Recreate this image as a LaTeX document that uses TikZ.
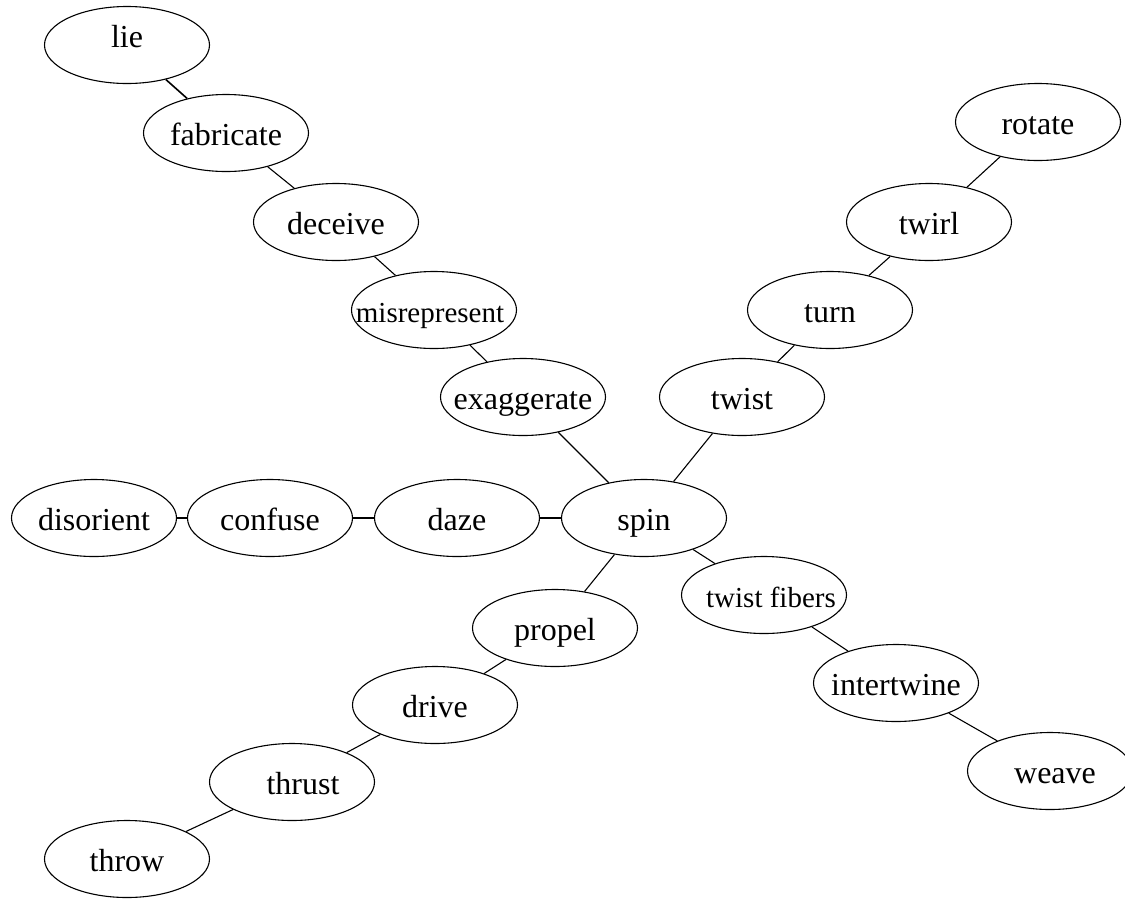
\documentclass[tikz,border=0pt]{standalone}
\usepackage{fontspec}
\setmainfont{Liberation Serif}
\usetikzlibrary{shapes.geometric}
\newcommand{\wordbox}[1]{\makebox[0pt][c]{#1}}
\tikzset{
  word/.style={draw, ellipse, line width=1.1pt, minimum width=165pt, minimum height=77pt, inner sep=0pt, text height=24pt, text depth=0pt, font=\fontsize{32}{36}\selectfont},
  smallword/.style={word, font=\fontsize{29}{33}\selectfont},
  link/.style={line width=1.1pt}
}
\begin{document}
\begin{tikzpicture}[x=1pt,y=-1pt]
\fill[white] (0,0) rectangle (1125,898);
\clip (0,0) rectangle (1125,898);
\node[word] (lie) at (127,45) {\wordbox{\raisebox{10pt}{lie}}};
\node[word] (fabricate) at (226,133) {\wordbox{fabricate}};
\node[word] (deceive) at (336,222) {\wordbox{deceive}};
\node[smallword] (misrepresent) at (434,310) {\wordbox{\hspace*{-8pt}misrepresent}};
\node[word] (exaggerate) at (523,397) {\wordbox{exaggerate}};
\node[word] (twist) at (742,397) {\wordbox{twist}};
\node[word] (turn) at (830,310) {\wordbox{turn}};
\node[word] (twirl) at (929,222) {\wordbox{twirl}};
\node[word] (rotate) at (1038,122) {\wordbox{rotate}};
\node[word] (spin) at (644,518) {\wordbox{spin}};
\node[word] (daze) at (457,518) {\wordbox{daze}};
\node[word] (confuse) at (270,518) {\wordbox{confuse}};
\node[word] (disorient) at (94,518) {\wordbox{disorient}};
\node[smallword] (twistfibers) at (764,595) {\wordbox{\hspace*{14pt}twist fibers}};
\node[word] (intertwine) at (896,683) {\wordbox{intertwine}};
\node[word] (weave) at (1050,771) {\wordbox{\hspace*{10pt}weave}};
\node[word] (propel) at (555,628) {\wordbox{propel}};
\node[word] (drive) at (435,705) {\wordbox{drive}};
\node[word] (thrust) at (292,782) {\wordbox{\hspace*{22pt}thrust}};
\node[word] (throw) at (127,859) {\wordbox{throw}};
\draw[link, line width=1.6pt] (lie) -- (fabricate);
\draw[link] (fabricate) -- (deceive);
\draw[link] (deceive) -- (misrepresent);
\draw[link] (misrepresent) -- (exaggerate);
\draw[link] (exaggerate) -- (spin);
\draw[link] (spin) -- (twist);
\draw[link] (twist) -- (turn);
\draw[link] (turn) -- (twirl);
\draw[link] (twirl) -- (rotate);
\draw[link] (spin) -- (daze);
\draw[link] (daze) -- (confuse);
\draw[link] (confuse) -- (disorient);
\draw[link] (spin) -- (twistfibers);
\draw[link] (twistfibers) -- (intertwine);
\draw[link] (intertwine) -- (weave);
\draw[link] (spin) -- (propel);
\draw[link] (propel) -- (drive);
\draw[link] (drive) -- (thrust);
\draw[link] (thrust) -- (throw);
\end{tikzpicture}
\end{document}
